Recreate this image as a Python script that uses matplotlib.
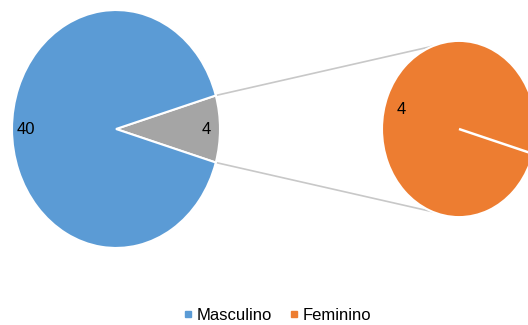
import numpy as np
import matplotlib.pyplot as plt
from matplotlib.lines import Line2D

plt.rcParams['font.family'] = ['Liberation Sans', 'DejaVu Sans']

# data
categories = ['Masculino', 'Feminino']
values = [40, 4]
colors = ['#5B9BD5', '#ED7D31']
other_color = '#A5A5A5'

W, H = 528, 325
stretch = 1.144  # the picture is squeezed horizontally

fig = plt.figure(figsize=(W / 100, H / 100), dpi=100)
ax = fig.add_axes([0, 0, 1, 1])

total = sum(values)
other = values[1]
half = 360.0 * other / total / 2

cy = (H - 129) / stretch
main_c, main_r = (116, cy), 104
sub_c, sub_r = (459, cy), 77

# main pie: Masculino + "other" slice holding Feminino
ax.pie([other, values[0]], colors=[other_color, colors[0]], startangle=-half,
       counterclock=True, center=main_c, radius=main_r,
       wedgeprops=dict(edgecolor='white', linewidth=1.5),
       autopct=lambda p: f'{p * total / 100:.0f}', pctdistance=0.87,
       textprops=dict(fontsize=12, color='black'))

# secondary pie
ax.pie([values[1]], colors=[colors[1]], startangle=-half, center=sub_c,
       radius=sub_r, wedgeprops=dict(edgecolor='white', linewidth=1.5),
       autopct=lambda p: f'{values[1]}', pctdistance=0.78,
       textprops=dict(fontsize=12, color='black'))

# slice border of the single wedge
a = np.radians(-half)
ax.plot([sub_c[0], sub_c[0] + sub_r * np.cos(a)],
        [sub_c[1], sub_c[1] + sub_r * np.sin(a)],
        color='white', lw=1.8, solid_capstyle='butt')

# connector lines
for sgn in (1, -1):
    a0 = np.radians(sgn * half)
    a1 = np.radians(180 - sgn * 70)
    x0 = main_c[0] + main_r * np.cos(a0)
    y0 = main_c[1] + main_r * np.sin(a0)
    x1 = sub_c[0] + sub_r * np.cos(a1)
    y1 = sub_c[1] + sub_r * np.sin(a1)
    ax.plot([x0, x1], [y0, y1], color='#C8C8C8', lw=1.2, zorder=0)

ax.set_aspect('auto')
ax.set_xlim(0, W)
ax.set_ylim(0, H / stretch)
ax.axis('off')

handles = [Line2D([], [], marker='s', ls='', color=c, markersize=4.5)
           for c in colors]
fig.legend(handles, categories, loc='center', bbox_to_anchor=(0.525, 0.03),
           ncol=2, frameon=False, fontsize=12, handlelength=0.6,
           handletextpad=0.25, columnspacing=1.0)

fig.savefig('out.png', dpi=100)
